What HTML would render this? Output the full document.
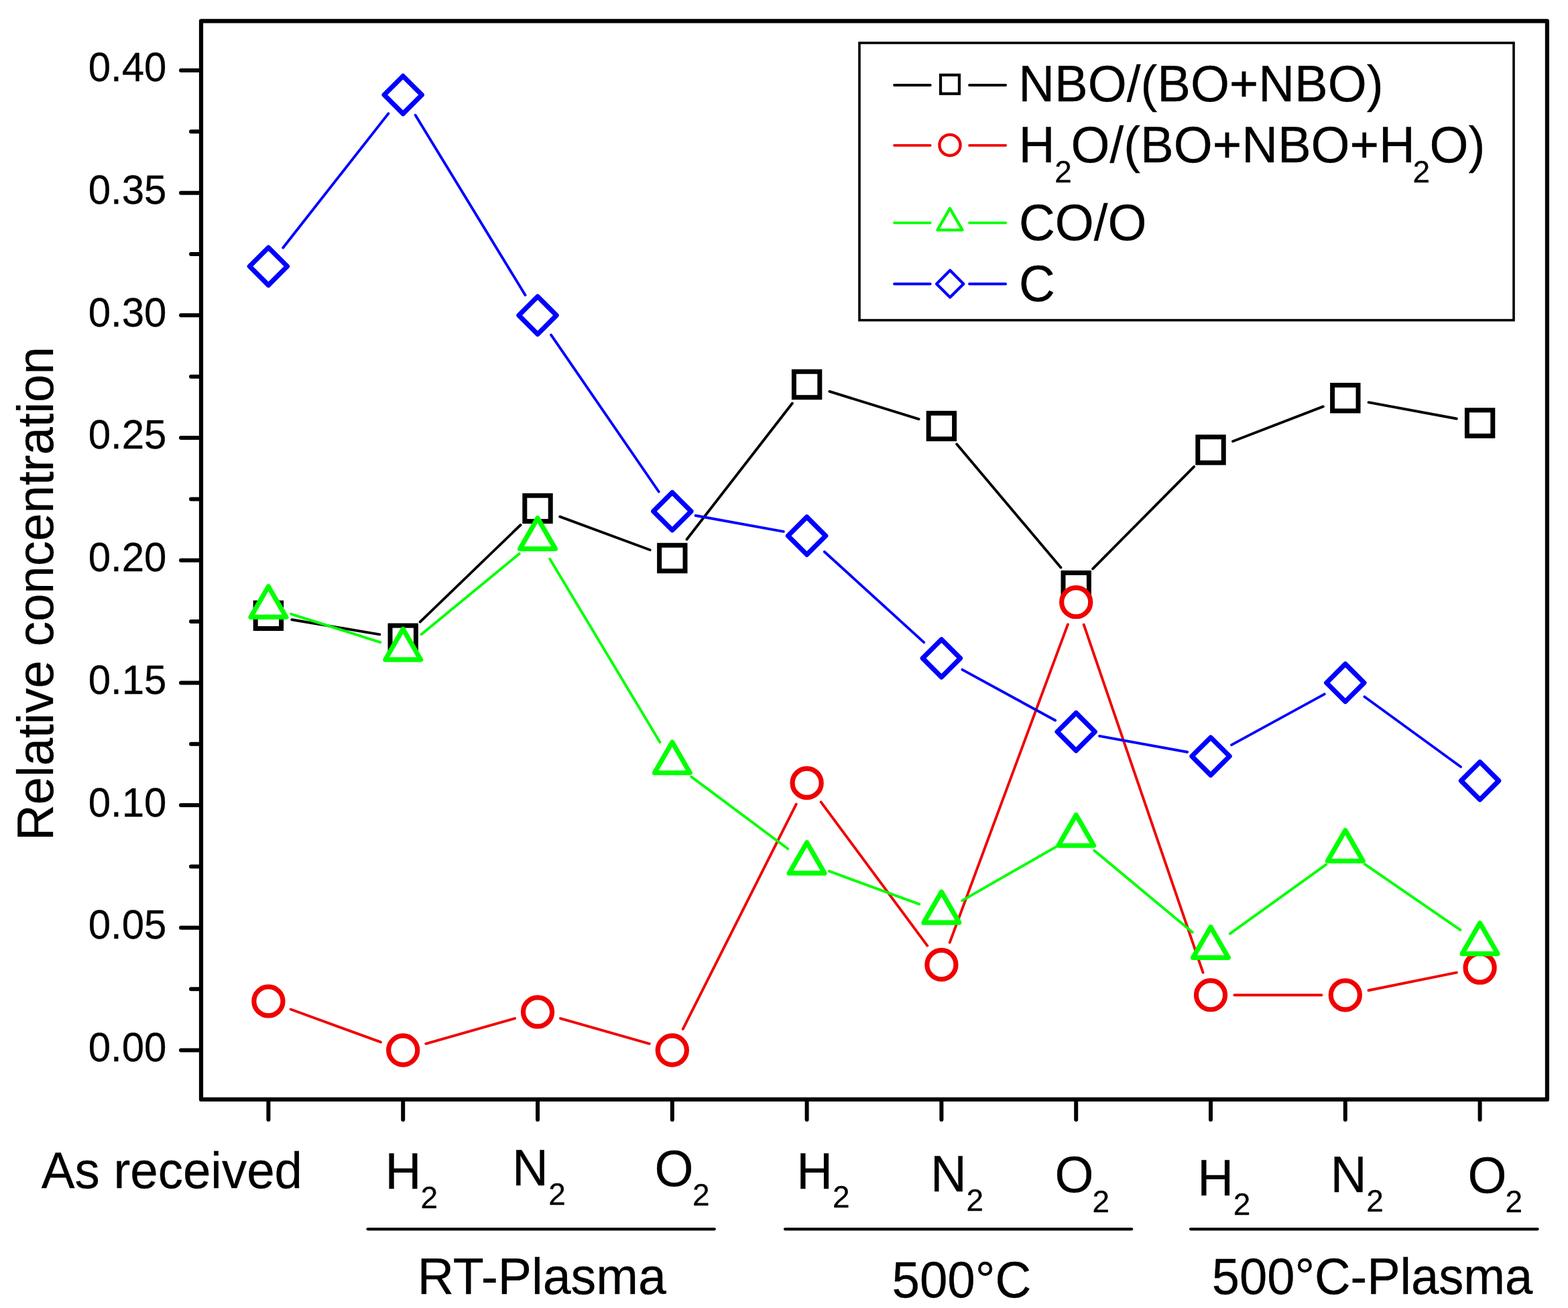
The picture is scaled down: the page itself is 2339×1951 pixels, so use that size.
<!DOCTYPE html>
<html><head><meta charset="utf-8"><title>Relative concentration chart</title>
<style>html,body{margin:0;padding:0;background:#fff;}svg{display:block;}text{stroke:#000;stroke-width:0.3px;}</style>
</head><body>
<svg width="2339" height="1951" viewBox="0 0 2339 1951" font-family='"Liberation Sans", Arial, sans-serif' fill="#000">
<rect width="2339" height="1951" fill="#fff"/>
<path d="M300 31.3H2307.9V1639.9H300Z" fill="none" stroke="#000" stroke-width="6.2" stroke-linejoin="round"/>
<path d="M270 1566.5H300M270 1383.81H300M270 1201.12H300M270 1018.44H300M270 835.75H300M270 653.06H300M270 470.37H300M270 287.69H300M270 105H300M285 1475.16H300M285 1292.47H300M285 1109.78H300M285 927.09H300M285 744.41H300M285 561.72H300M285 379.03H300M285 196.34H300M400.4 1640V1670M601.2 1640V1670M802 1640V1670M1002.8 1640V1670M1203.6 1640V1670M1404.4 1640V1670M1605.2 1640V1670M1806 1640V1670M2006.8 1640V1670M2207.6 1640V1670" fill="none" stroke="#000" stroke-width="6" stroke-linecap="round"/>
<text transform="matrix(1 0 0 1.03 248.4 1582.9)" font-size="60" text-anchor="end">0.00</text>
<text transform="matrix(1 0 0 1.03 248.4 1400.21)" font-size="60" text-anchor="end">0.05</text>
<text transform="matrix(1 0 0 1.03 248.4 1217.53)" font-size="60" text-anchor="end">0.10</text>
<text transform="matrix(1 0 0 1.03 248.4 1034.84)" font-size="60" text-anchor="end">0.15</text>
<text transform="matrix(1 0 0 1.03 248.4 852.15)" font-size="60" text-anchor="end">0.20</text>
<text transform="matrix(1 0 0 1.03 248.4 669.46)" font-size="60" text-anchor="end">0.25</text>
<text transform="matrix(1 0 0 1.03 248.4 486.77)" font-size="60" text-anchor="end">0.30</text>
<text transform="matrix(1 0 0 1.03 248.4 304.09)" font-size="60" text-anchor="end">0.35</text>
<text transform="matrix(1 0 0 1.03 248.4 121.4)" font-size="60" text-anchor="end">0.40</text>
<text transform="translate(79.1 1254.1) rotate(-90) scale(1 1.02)" font-size="74.5">Relative concentration</text>
<text transform="matrix(1 0 0 1.02 61.85 1772)" font-size="74.5">As received</text>
<text transform="matrix(1 0 0 1.03 574.6 1773.1)" font-size="74.5">H</text>
<text transform="matrix(1 0 0 1.0 627.6 1802.1)" font-size="46">2</text>
<text transform="matrix(1 0 0 1.03 763.9 1768.3)" font-size="74.5">N</text>
<text transform="matrix(1 0 0 1.0 818.3 1797.1)" font-size="46">2</text>
<text transform="matrix(1 0 0 1.03 976.5 1768.9)" font-size="74.5">O</text>
<text transform="matrix(1 0 0 1.0 1033 1798.3)" font-size="46">2</text>
<text transform="matrix(1 0 0 1.03 1188.2 1773.1)" font-size="74.5">H</text>
<text transform="matrix(1 0 0 1.0 1241.9 1801.1)" font-size="46">2</text>
<text transform="matrix(1 0 0 1.03 1387.9 1777.4)" font-size="74.5">N</text>
<text transform="matrix(1 0 0 1.0 1441.5 1806.4)" font-size="46">2</text>
<text transform="matrix(1 0 0 1.03 1573.5 1778.2)" font-size="74.5">O</text>
<text transform="matrix(1 0 0 1.0 1629.6 1807.7)" font-size="46">2</text>
<text transform="matrix(1 0 0 1.03 1786.2 1782.7)" font-size="74.5">H</text>
<text transform="matrix(1 0 0 1.0 1839.8 1811.7)" font-size="46">2</text>
<text transform="matrix(1 0 0 1.03 1984.7 1778)" font-size="74.5">N</text>
<text transform="matrix(1 0 0 1.0 2038.3 1807)" font-size="46">2</text>
<text transform="matrix(1 0 0 1.03 2189.4 1779.3)" font-size="74.5">O</text>
<text transform="matrix(1 0 0 1.0 2245.6 1808.1)" font-size="46">2</text>
<path d="M548.5 1833.3H1065.8M1171 1833.3H1688.2M1776 1833.3H2293.6" fill="none" stroke="#000" stroke-width="4.3" stroke-linecap="round"/>
<text transform="matrix(1 0 0 1.02 622.8 1930.2)" font-size="75.3">RT-Plasma</text>
<text transform="matrix(1 0 0 1.03 1330.5 1935)" font-size="74.5">500°C</text>
<text transform="matrix(1 0 0 1.02 1807.8 1930.1)" font-size="74.1">500°C-Plasma</text>
<path d="M435.3 924.21L566.3 946.39M626.67 927.71L776.53 782.99M835.21 770.66L969.59 820.24M1024.49 804.52L1181.91 601.48M1237.42 583.94L1370.58 625.06M1427.22 662.56L1582.38 846.54M1630.12 848.46L1781.08 696.14M1839.04 658.28L1973.76 606.42M2041.6 600.17L2172.8 624.53" fill="none" stroke="#000000" stroke-width="3.9" stroke-linecap="round"/>
<rect x="381.2" y="899.1" width="38.4" height="38.4" fill="#fff" stroke="#000000" stroke-width="7"/>
<rect x="582" y="933.1" width="38.4" height="38.4" fill="#fff" stroke="#000000" stroke-width="7"/>
<rect x="782.8" y="739.2" width="38.4" height="38.4" fill="#fff" stroke="#000000" stroke-width="7"/>
<rect x="983.6" y="813.3" width="38.4" height="38.4" fill="#fff" stroke="#000000" stroke-width="7"/>
<rect x="1184.4" y="554.3" width="38.4" height="38.4" fill="#fff" stroke="#000000" stroke-width="7"/>
<rect x="1385.2" y="616.3" width="38.4" height="38.4" fill="#fff" stroke="#000000" stroke-width="7"/>
<rect x="1586" y="854.4" width="38.4" height="38.4" fill="#fff" stroke="#000000" stroke-width="7"/>
<rect x="1786.8" y="651.8" width="38.4" height="38.4" fill="#fff" stroke="#000000" stroke-width="7"/>
<rect x="1987.6" y="574.5" width="38.4" height="38.4" fill="#fff" stroke="#000000" stroke-width="7"/>
<rect x="2188.4" y="611.8" width="38.4" height="38.4" fill="#fff" stroke="#000000" stroke-width="7"/>
<path d="M433.67 1505.53L567.93 1554.39M635.25 1556.82L767.95 1519.08M836.05 1519.08L968.75 1556.82M1018.73 1534.89L1187.67 1199.51M1224.67 1196.35L1383.33 1410.55M1416.72 1405.81L1592.88 931.39M1616.68 931.69L1794.52 1450.71M1841.4 1484.22L1971.4 1484.28M2041.49 1477.27L2172.91 1450.63" fill="none" stroke="#f00000" stroke-width="3.9" stroke-linecap="round"/>
<circle cx="400.4" cy="1493.42" r="21.55" fill="#fff" stroke="#f00000" stroke-width="7.2"/>
<circle cx="601.2" cy="1566.5" r="21.55" fill="#fff" stroke="#f00000" stroke-width="7.2"/>
<circle cx="802" cy="1509.4" r="21.55" fill="#fff" stroke="#f00000" stroke-width="7.2"/>
<circle cx="1002.8" cy="1566.5" r="21.55" fill="#fff" stroke="#f00000" stroke-width="7.2"/>
<circle cx="1203.6" cy="1167.9" r="21.55" fill="#fff" stroke="#f00000" stroke-width="7.2"/>
<circle cx="1404.4" cy="1439" r="21.55" fill="#fff" stroke="#f00000" stroke-width="7.2"/>
<circle cx="1605.2" cy="898.2" r="21.55" fill="#fff" stroke="#f00000" stroke-width="7.2"/>
<circle cx="1806" cy="1484.2" r="21.55" fill="#fff" stroke="#f00000" stroke-width="7.2"/>
<circle cx="2006.8" cy="1484.3" r="21.55" fill="#fff" stroke="#f00000" stroke-width="7.2"/>
<circle cx="2207.6" cy="1443.6" r="21.55" fill="#fff" stroke="#f00000" stroke-width="7.2"/>
<path d="M434.15 915.87L567.45 958.03M628.53 946.2L774.67 825.9M820.24 833.74L984.56 1107.16M1031.18 1158.66L1175.22 1266.04M1236.83 1299.4L1371.17 1348.7M1435.13 1343.32L1574.47 1263.58M1632.4 1268.65L1778.8 1390.55M1834.75 1392.55L1978.05 1289.65M2035.95 1289.08L2178.45 1387.22" fill="none" stroke="#00ff00" stroke-width="3.9" stroke-linecap="round"/>
<polygon points="400.4,874.7 426.81,920.45 373.99,920.45" fill="#fff" stroke="#00ff00" stroke-width="7.2" stroke-linejoin="round"/>
<polygon points="601.2,938.2 627.61,983.95 574.79,983.95" fill="#fff" stroke="#00ff00" stroke-width="7.2" stroke-linejoin="round"/>
<polygon points="802,772.9 828.41,818.65 775.59,818.65" fill="#fff" stroke="#00ff00" stroke-width="7.2" stroke-linejoin="round"/>
<polygon points="1002.8,1107 1029.21,1152.75 976.39,1152.75" fill="#fff" stroke="#00ff00" stroke-width="7.2" stroke-linejoin="round"/>
<polygon points="1203.6,1256.7 1230.01,1302.45 1177.19,1302.45" fill="#fff" stroke="#00ff00" stroke-width="7.2" stroke-linejoin="round"/>
<polygon points="1404.4,1330.4 1430.81,1376.15 1377.99,1376.15" fill="#fff" stroke="#00ff00" stroke-width="7.2" stroke-linejoin="round"/>
<polygon points="1605.2,1215.5 1631.61,1261.25 1578.79,1261.25" fill="#fff" stroke="#00ff00" stroke-width="7.2" stroke-linejoin="round"/>
<polygon points="1806,1382.7 1832.41,1428.45 1779.59,1428.45" fill="#fff" stroke="#00ff00" stroke-width="7.2" stroke-linejoin="round"/>
<polygon points="2006.8,1238.5 2033.21,1284.25 1980.39,1284.25" fill="#fff" stroke="#00ff00" stroke-width="7.2" stroke-linejoin="round"/>
<polygon points="2207.6,1376.8 2234.01,1422.55 2181.19,1422.55" fill="#fff" stroke="#00ff00" stroke-width="7.2" stroke-linejoin="round"/>
<path d="M422.26 369.46L579.34 169.38M619.65 171.75L783.55 440.16M822.04 499.55L982.76 733.5M1037.63 769.01L1168.77 792.88M1229.78 823.04L1378.22 958.08M1435.47 998.86L1574.13 1074.55M1640.03 1097.85L1771.17 1121.71M1837.07 1111.09L1975.73 1035.4M2035.42 1039.27L2178.98 1143.76" fill="none" stroke="#0000ff" stroke-width="3.9" stroke-linecap="round"/>
<polygon points="400.4,369.2 428.5,397.3 400.4,425.4 372.3,397.3" fill="#fff" stroke="#0000ff" stroke-width="7.2" stroke-linejoin="round"/>
<polygon points="601.2,113.44 629.3,141.54 601.2,169.64 573.1,141.54" fill="#fff" stroke="#0000ff" stroke-width="7.2" stroke-linejoin="round"/>
<polygon points="802,442.27 830.1,470.38 802,498.48 773.9,470.38" fill="#fff" stroke="#0000ff" stroke-width="7.2" stroke-linejoin="round"/>
<polygon points="1002.8,734.57 1030.9,762.67 1002.8,790.77 974.7,762.67" fill="#fff" stroke="#0000ff" stroke-width="7.2" stroke-linejoin="round"/>
<polygon points="1203.6,771.11 1231.7,799.21 1203.6,827.31 1175.5,799.21" fill="#fff" stroke="#0000ff" stroke-width="7.2" stroke-linejoin="round"/>
<polygon points="1404.4,953.8 1432.5,981.9 1404.4,1010 1376.3,981.9" fill="#fff" stroke="#0000ff" stroke-width="7.2" stroke-linejoin="round"/>
<polygon points="1605.2,1063.41 1633.3,1091.51 1605.2,1119.61 1577.1,1091.51" fill="#fff" stroke="#0000ff" stroke-width="7.2" stroke-linejoin="round"/>
<polygon points="1806,1099.95 1834.1,1128.05 1806,1156.15 1777.9,1128.05" fill="#fff" stroke="#0000ff" stroke-width="7.2" stroke-linejoin="round"/>
<polygon points="2006.8,990.34 2034.9,1018.44 2006.8,1046.54 1978.7,1018.44" fill="#fff" stroke="#0000ff" stroke-width="7.2" stroke-linejoin="round"/>
<polygon points="2207.6,1136.49 2235.7,1164.59 2207.6,1192.69 2179.5,1164.59" fill="#fff" stroke="#0000ff" stroke-width="7.2" stroke-linejoin="round"/>
<rect x="1282" y="64" width="976" height="413.6" fill="#fff" stroke="#000" stroke-width="3.6"/>
<path d="M1334 127H1387.8M1446 127H1500.2" fill="none" stroke="#000000" stroke-width="3.8" stroke-linecap="round"/>
<path d="M1334 216.8H1387.8M1446 216.8H1500.2" fill="none" stroke="#f00000" stroke-width="3.8" stroke-linecap="round"/>
<path d="M1334 332.3H1387.8M1446 332.3H1500.2" fill="none" stroke="#00ff00" stroke-width="3.8" stroke-linecap="round"/>
<path d="M1334 423.5H1387.8M1446 423.5H1500.2" fill="none" stroke="#0000ff" stroke-width="3.8" stroke-linecap="round"/>
<rect x="1403.05" y="111.85" width="27.9" height="27.9" fill="#fff" stroke="#000000" stroke-width="4.2"/>
<circle cx="1417" cy="216.4" r="15.55" fill="#fff" stroke="#f00000" stroke-width="4.4"/>
<polygon points="1417,310.85 1435.62,343.1 1398.38,343.1" fill="#fff" stroke="#00ff00" stroke-width="4.3" stroke-linejoin="round"/>
<polygon points="1417.2,403.3 1437.3,423.4 1417.2,443.5 1397.1,423.4" fill="#fff" stroke="#0000ff" stroke-width="4.3" stroke-linejoin="round"/>
<text transform="matrix(1 0 0 1.03 1519.3 151.4)" font-size="74.5">NBO/(BO+NBO)</text>
<text transform="matrix(1 0 0 1.03 1519.8 242)" font-size="74.5">H</text>
<text transform="matrix(1 0 0 1.0 1573.2 271.9)" font-size="46">2</text>
<text transform="matrix(1 0 0 1.03 1597.6 242)" font-size="74.5">O/(BO+NBO+H</text>
<text transform="matrix(1 0 0 1.0 2107.5 271.7)" font-size="46">2</text>
<text transform="matrix(1 0 0 1.03 2132.5 242)" font-size="74.5">O)</text>
<text transform="matrix(1 0 0 1.03 1520 357.6)" font-size="74.5">CO/O</text>
<text transform="matrix(1 0 0 1.03 1520 448.7)" font-size="74.5">C</text>
</svg>
</body></html>
